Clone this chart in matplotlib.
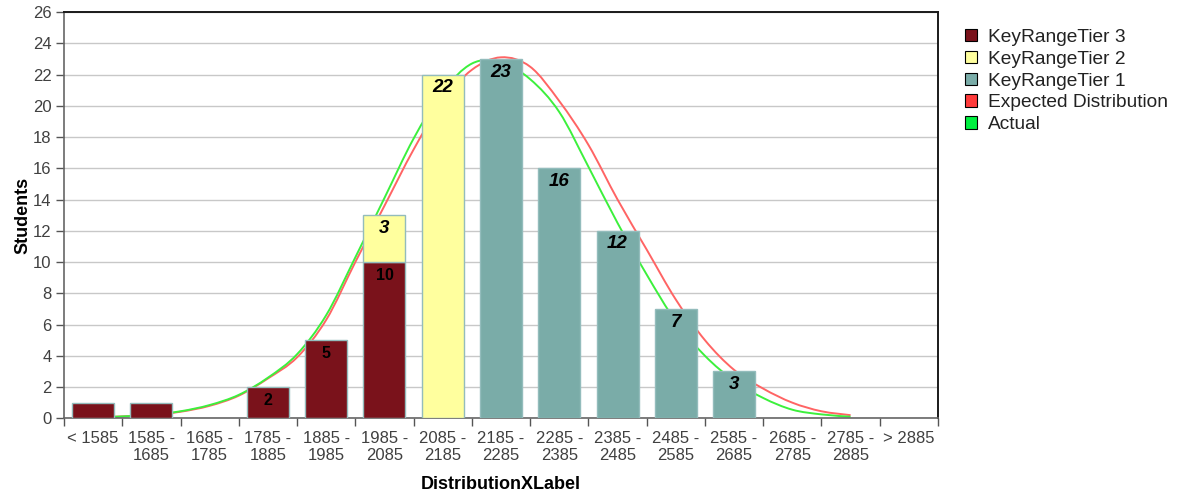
import matplotlib
matplotlib.use("Agg")
import matplotlib.pyplot as plt
from matplotlib.patches import Patch, PathPatch
from matplotlib.path import Path
import numpy as np

plt.rcParams['font.family'] = ['Liberation Sans', 'DejaVu Sans']

categories = ["< 1585", "1585 -\n1685", "1685 -\n1785", "1785 -\n1885", "1885 -\n1985",
              "1985 -\n2085", "2085 -\n2185", "2185 -\n2285", "2285 -\n2385", "2385 -\n2485",
              "2485 -\n2585", "2585 -\n2685", "2685 -\n2785", "2785 -\n2885", "> 2885"]
tier3 = [1, 1, 0, 2, 5, 10, 0, 0, 0, 0, 0, 0, 0, 0, 0]
tier2 = [0, 0, 0, 0, 0, 3, 22, 0, 0, 0, 0, 0, 0, 0, 0]
tier1 = [0, 0, 0, 0, 0, 0, 0, 23, 16, 12, 7, 3, 0, 0, 0]

# curve positions (in category units) and values
curve_x = [0, 0.5, 1, 1.5, 2, 2.5, 3, 3.5, 4, 4.5, 5, 5.5, 6, 6.5, 7, 7.5, 8, 8.5,
           9, 9.5, 10, 10.5, 11, 11.5, 12, 12.5, 13]
expected = [0.05, 0.12, 0.22, 0.42, 0.8, 1.45, 2.55, 3.9, 6.3, 10.0, 13.6, 17.2, 20.3,
            22.3, 23.1, 22.5, 20.3, 17.5, 14.0, 10.8, 7.6, 5.0, 3.1, 1.9, 1.0, 0.45, 0.2]
actual = [0.05, 0.12, 0.23, 0.45, 0.85, 1.5, 2.6, 4.1, 6.6, 10.3, 14.1, 17.9, 20.9,
          22.7, 22.8, 21.7, 19.6, 16.1, 12.5, 9.2, 6.2, 4.0, 2.4, 1.3, 0.55, 0.25, 0.1]

c3, c2, c1 = '#7a121b', '#ffff9e', '#7aaca8'
edge = '#93bcbc'
red, green = '#ff6464', '#3cf03c'

fig = plt.figure(figsize=(11.78, 4.98), dpi=100)
ax = fig.add_axes([64/1178, 1-418.3/498, (938-64)/1178, (418.3-12)/498])

x = np.arange(len(categories))
w = 0.72
b3 = np.array(tier3, float)
b2 = np.array(tier2, float)
b1 = np.array(tier1, float)


def smooth_path(xs, ys):
    """Catmull-Rom curve through the data points, drawn as cubic Bezier segments."""
    p = np.column_stack([xs, ys]).astype(float)
    p_ext = np.vstack([p[0], p, p[-1]])
    verts = [p[0]]
    codes = [Path.MOVETO]
    for i in range(1, len(p_ext) - 2):
        p0, p1, p2, p3 = p_ext[i - 1], p_ext[i], p_ext[i + 1], p_ext[i + 2]
        verts += [p1 + (p2 - p0) / 6, p2 - (p3 - p1) / 6, p2]
        codes += [Path.CURVE4] * 3
    return Path(verts, codes)


ax.add_patch(PathPatch(smooth_path(curve_x, expected), fill=False, edgecolor=red, lw=1.4, zorder=2))
ax.add_patch(PathPatch(smooth_path(curve_x, actual), fill=False, edgecolor=green, lw=1.4, zorder=2))

for vals, bottom, col in [(b3, 0, c3), (b2, b3, c2), (b1, b3 + b2, c1)]:
    m = vals > 0
    ax.bar(x[m], vals[m], w, bottom=(bottom if np.isscalar(bottom) else bottom[m]),
           color=col, edgecolor=edge, linewidth=1.0, zorder=3)


def label(vals, bottom, italic, size):
    for i, v in enumerate(vals):
        if v >= 2:
            top = v + (bottom if np.isscalar(bottom) else bottom[i])
            ax.annotate(f"{int(v)}", (x[i], top), xytext=(0, -9.5), textcoords='offset points',
                        ha='center', va='center', fontsize=size, fontweight='bold',
                        fontstyle='italic' if italic else 'normal', color='black', zorder=5)


label(b3, 0, False, 11.5)
label(b2, b3, True, 13.5)
label(b1, b3 + b2, True, 13.5)

ax.set_xlim(-0.5, len(categories) - 0.5)
ax.set_ylim(0, 26)
ax.set_yticks(np.arange(0, 27, 2))
ax.yaxis.grid(True, color='#c8c8c8', lw=1.0, zorder=0)
ax.set_axisbelow(True)

ax.set_xticks(np.arange(-0.5, len(categories), 1.0))
ax.set_xticklabels([])
ax.set_xticks(x, minor=True)
ax.set_xticklabels(categories, minor=True, fontsize=12, color='#404040', linespacing=1.2)
ax.tick_params(axis='x', which='major', length=6, width=1, color='#555555', direction='out')
ax.tick_params(axis='x', which='minor', length=0, pad=9)
ax.tick_params(axis='y', length=6, width=1, color='#555555', labelsize=12, labelcolor='#404040', pad=3)

for s in ['left', 'bottom']:
    ax.spines[s].set_color('#666666')
    ax.spines[s].set_linewidth(1.2)
for s in ['top', 'right']:
    ax.spines[s].set_color('#1a1a1a')
    ax.spines[s].set_linewidth(1.4)

ax.set_ylabel('Students', fontsize=13, fontweight='bold', labelpad=1)
ax.set_xlabel('DistributionXLabel', fontsize=13, fontweight='bold', labelpad=9)

handles = [Patch(facecolor=c3, edgecolor='black', lw=0.8, label='KeyRangeTier 3'),
           Patch(facecolor=c2, edgecolor='black', lw=0.8, label='KeyRangeTier 2'),
           Patch(facecolor=c1, edgecolor='black', lw=0.8, label='KeyRangeTier 1'),
           Patch(facecolor='#ff3b3b', edgecolor='black', lw=0.8, label='Expected Distribution'),
           Patch(facecolor='#00f040', edgecolor='black', lw=0.8, label='Actual')]
leg = fig.legend(handles=handles, loc='upper left', bbox_to_anchor=(965/1178, 1-29/498),
                 frameon=False, fontsize=13.8, handlelength=0.62, handleheight=0.62,
                 handletextpad=0.6, labelspacing=0.25, borderaxespad=0, borderpad=0)
for t in leg.get_texts():
    t.set_color('#222222')

fig.savefig('out.png', dpi=100)
